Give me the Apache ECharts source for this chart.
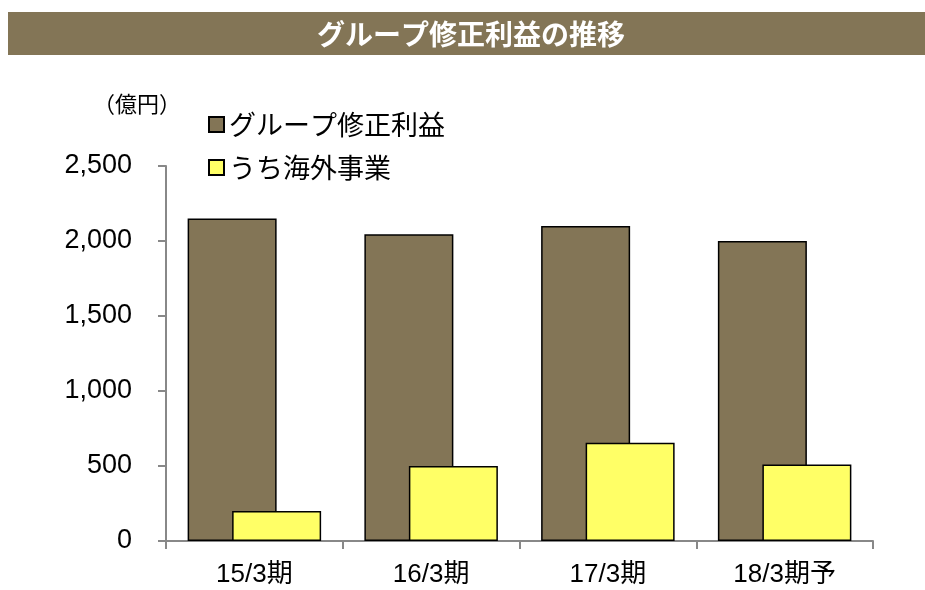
<!DOCTYPE html>
<html>
<head>
<meta charset="utf-8">
<script src="https://cdn.jsdelivr.net/npm/echarts@6/dist/echarts.min.js"></script>
<style>
html,body{margin:0;padding:0;background:#fff;}
#chart{width:925px;height:590px;}
</style>
</head>
<body>
<div id="chart"></div>
<script>
const titleText = 'グループ修正利益の推移';
const unitText = '（億円）';
const categories = ['15/3期', '16/3期', '17/3期', '18/3期予'];
const seriesNames = ['グループ修正利益', 'うち海外事業'];
const groupProfit = [2150, 2045, 2100, 2000];
const overseasProfit = [200, 500, 655, 510];
const yTicks = [0, 500, 1000, 1500, 2000, 2500];

const FONT = "'Liberation Sans', 'Noto Sans CJK JP', sans-serif";
const chart = echarts.init(document.getElementById('chart'), null, {renderer: 'canvas'});
chart.setOption({
  backgroundColor: '#ffffff',
  animation: false,
  textStyle: {fontFamily: FONT},
  graphic: [
    {type: 'rect', left: 8, top: 12, shape: {width: 917, height: 43}, style: {fill: '#837556'}, z: 0},
    {type: 'text', x: 471, y: 34, style: {text: titleText, fill: '#ffffff', font: "bold 28px 'Noto Sans CJK JP', sans-serif", textAlign: 'center', textVerticalAlign: 'middle'}},
    {type: 'text', x: 93, y: 104, style: {text: unitText, fill: '#000', font: "22px 'Noto Sans CJK JP', sans-serif", textAlign: 'left', textVerticalAlign: 'middle'}}
  ],
  legend: {
    orient: 'vertical',
    left: 203,
    top: 106,
    itemWidth: 15,
    itemHeight: 15,
    itemGap: 16,
    icon: 'rect',
    textStyle: {fontSize: 27, color: '#000', fontFamily: "'Noto Sans CJK JP', sans-serif"},
    data: seriesNames
  },
  grid: {left: 166, right: 52, top: 166, bottom: 49, containLabel: false},
  xAxis: {
    type: 'category',
    data: categories,
    axisLine: {lineStyle: {color: '#888888', width: 2}},
    axisTick: {show: true, length: 8, lineStyle: {color: '#888888', width: 2}},
    axisLabel: {fontSize: 26, color: '#000', margin: 21, fontFamily: FONT}
  },
  yAxis: {
    type: 'value',
    min: yTicks[0],
    max: yTicks[yTicks.length - 1],
    interval: 500,
    axisLine: {show: true, lineStyle: {color: '#888888', width: 2}},
    axisTick: {show: true, inside: false, length: 8, lineStyle: {color: '#888888', width: 2}},
    splitLine: {show: false},
    axisLabel: {fontSize: 27, color: '#000', margin: 34, fontFamily: FONT,
      formatter: v => v.toLocaleString('en-US')}
  },
  series: [
    {name: seriesNames[0], type: 'bar', data: groupProfit, barWidth: 89, barGap: '-50%',
     itemStyle: {color: '#837556', borderColor: '#000', borderWidth: 1.5}},
    {name: seriesNames[1], type: 'bar', data: overseasProfit, barWidth: 89, barGap: '-50%',
     itemStyle: {color: '#ffff66', borderColor: '#000', borderWidth: 1.5}}
  ]
});
</script>
</body>
</html>
